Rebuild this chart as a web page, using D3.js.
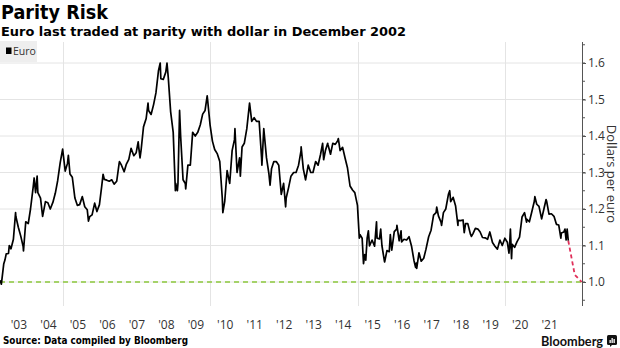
<!DOCTYPE html>
<html>
<head>
<meta charset="utf-8">
<script src="https://cdn.jsdelivr.net/npm/d3@7"></script>
<style>
  html, body { margin: 0; padding: 0; background: #fff; }
  svg { display: block; }
</style>
</head>
<body>
<svg id="chart" width="620" height="348"></svg>
<script>
// EUR/USD, dollars per euro
const euroDates = [
  "2002-11-15","2002-12-02","2002-12-31",
  "2003-01-15","2003-01-31","2003-02-28","2003-03-10","2003-03-31","2003-04-30","2003-05-27","2003-05-30","2003-06-30","2003-07-31","2003-08-29","2003-09-02","2003-09-30","2003-10-31","2003-11-28","2003-12-31",
  "2004-01-12","2004-01-30","2004-02-18","2004-02-27","2004-03-31","2004-04-26","2004-05-31","2004-06-30","2004-07-30","2004-08-31","2004-09-30","2004-10-29","2004-11-30","2004-12-30",
  "2005-01-31","2005-02-28","2005-03-11","2005-03-31","2005-04-29","2005-05-31","2005-06-30","2005-07-29","2005-08-31","2005-09-30","2005-10-31","2005-11-15","2005-11-30","2005-12-30",
  "2006-01-31","2006-02-28","2006-03-31","2006-04-28","2006-05-15","2006-05-31","2006-06-30","2006-07-31","2006-08-31","2006-09-29","2006-10-31","2006-11-30","2006-12-04","2006-12-29",
  "2007-01-31","2007-02-28","2007-03-30","2007-04-27","2007-05-31","2007-06-29","2007-07-24","2007-07-31","2007-08-16","2007-08-31","2007-09-28","2007-10-31","2007-11-23","2007-11-30","2007-12-31",
  "2008-01-31","2008-02-29","2008-03-31","2008-04-22","2008-04-30","2008-05-30","2008-06-30","2008-07-15","2008-07-31","2008-08-29","2008-09-30","2008-10-27","2008-10-31","2008-11-21","2008-11-28","2008-12-18","2008-12-31",
  "2009-01-30","2009-02-27","2009-03-04","2009-03-31","2009-04-30","2009-05-29","2009-06-30","2009-07-31","2009-08-31","2009-09-30","2009-10-30","2009-11-25","2009-11-30","2009-12-31",
  "2010-01-29","2010-02-26","2010-03-31","2010-04-30","2010-05-31","2010-06-07","2010-06-30","2010-07-30","2010-08-31","2010-09-30","2010-10-29","2010-11-04","2010-11-30","2010-12-31",
  "2011-01-10","2011-01-31","2011-02-28","2011-03-31","2011-04-29","2011-05-04","2011-05-31","2011-06-30","2011-07-29","2011-08-31","2011-09-30","2011-10-04","2011-10-27","2011-11-30","2011-12-30",
  "2012-01-13","2012-01-31","2012-02-29","2012-03-30","2012-04-30","2012-05-31","2012-06-29","2012-07-24","2012-07-31","2012-08-31","2012-09-28","2012-10-31","2012-11-30","2012-12-31",
  "2013-01-31","2013-02-01","2013-02-28","2013-03-28","2013-04-30","2013-05-31","2013-06-28","2013-07-31","2013-08-30","2013-09-30","2013-10-25","2013-11-07","2013-11-29","2013-12-27","2013-12-31",
  "2014-01-31","2014-02-28","2014-03-31","2014-04-30","2014-05-08","2014-05-30","2014-06-30","2014-07-31","2014-08-29","2014-09-30","2014-10-31","2014-11-28","2014-12-31",
  "2015-01-23","2015-01-30","2015-02-27","2015-03-16","2015-03-31","2015-04-13","2015-04-30","2015-05-15","2015-05-29","2015-06-30","2015-07-31","2015-08-24","2015-08-31","2015-09-30","2015-10-15","2015-10-30","2015-11-30","2015-12-03","2015-12-31",
  "2016-01-29","2016-02-11","2016-02-29","2016-03-31","2016-04-29","2016-05-03","2016-05-31","2016-06-23","2016-06-30","2016-07-29","2016-08-31","2016-09-30","2016-10-31","2016-11-30","2016-12-20","2016-12-30",
  "2017-01-03","2017-01-31","2017-02-28","2017-03-31","2017-04-28","2017-05-31","2017-06-30","2017-07-31","2017-08-31","2017-09-08","2017-09-29","2017-10-31","2017-11-07","2017-11-30","2017-12-29",
  "2018-01-31","2018-02-16","2018-02-28","2018-03-30","2018-04-30","2018-05-29","2018-05-31","2018-06-29","2018-07-31","2018-08-15","2018-08-31","2018-09-28","2018-10-31","2018-11-12","2018-11-30","2018-12-31",
  "2019-01-31","2019-02-28","2019-03-29","2019-04-30","2019-05-31","2019-06-28","2019-07-31","2019-08-30","2019-09-30","2019-10-31","2019-11-29","2019-12-31",
  "2020-01-31","2020-02-20","2020-02-28","2020-03-09","2020-03-23","2020-03-31","2020-04-30","2020-05-29","2020-06-30","2020-07-31","2020-08-31","2020-09-25","2020-09-30","2020-10-30","2020-11-30","2020-12-31",
  "2021-01-06","2021-01-29","2021-02-26","2021-03-31","2021-04-30","2021-05-25","2021-05-31","2021-06-30","2021-07-30","2021-08-31","2021-09-30","2021-10-29","2021-11-24","2021-11-30","2021-12-31",
  "2022-01-14","2022-01-28","2022-02-10","2022-02-24"
];
const euroValues = [
  1.005,0.994,1.049,
  1.060,1.077,1.078,1.100,1.091,1.117,1.190,1.180,1.150,1.125,1.097,1.085,1.165,1.160,1.200,1.260,
  1.285,1.245,1.290,1.245,1.230,1.180,1.220,1.217,1.200,1.218,1.243,1.277,1.327,1.364,
  1.304,1.325,1.347,1.296,1.287,1.230,1.210,1.212,1.234,1.206,1.198,1.167,1.179,1.184,
  1.216,1.193,1.212,1.262,1.295,1.281,1.279,1.276,1.280,1.268,1.276,1.325,1.330,1.320,
  1.302,1.323,1.336,1.366,1.346,1.354,1.384,1.369,1.340,1.365,1.425,1.448,1.490,1.470,1.459,
  1.486,1.518,1.578,1.600,1.557,1.555,1.575,1.600,1.560,1.467,1.410,1.250,1.270,1.250,1.270,1.470,1.400,
  1.280,1.270,1.255,1.320,1.320,1.410,1.400,1.410,1.430,1.460,1.470,1.510,1.500,1.430,
  1.386,1.363,1.351,1.330,1.230,1.190,1.220,1.305,1.270,1.360,1.390,1.420,1.300,1.340,
  1.290,1.370,1.380,1.420,1.480,1.490,1.440,1.450,1.440,1.440,1.340,1.320,1.420,1.340,1.296,
  1.265,1.310,1.330,1.330,1.320,1.240,1.270,1.206,1.230,1.260,1.290,1.300,1.300,1.320,
  1.360,1.370,1.310,1.280,1.320,1.300,1.300,1.330,1.320,1.350,1.380,1.335,1.360,1.380,1.376,
  1.350,1.380,1.377,1.387,1.393,1.360,1.369,1.339,1.313,1.263,1.252,1.245,1.210,
  1.120,1.130,1.120,1.050,1.075,1.060,1.120,1.140,1.099,1.115,1.098,1.165,1.120,1.118,1.145,1.100,1.057,1.055,1.086,
  1.083,1.130,1.087,1.138,1.145,1.155,1.113,1.140,1.110,1.117,1.115,1.124,1.098,1.059,1.040,1.052,
  1.037,1.080,1.057,1.065,1.090,1.124,1.142,1.183,1.190,1.205,1.181,1.164,1.155,1.190,1.200,
  1.240,1.250,1.220,1.232,1.208,1.155,1.169,1.168,1.170,1.135,1.160,1.160,1.131,1.125,1.132,1.147,
  1.145,1.137,1.122,1.121,1.117,1.137,1.108,1.098,1.090,1.115,1.100,1.120,
  1.109,1.079,1.100,1.145,1.064,1.103,1.095,1.110,1.123,1.178,1.190,1.164,1.172,1.165,1.193,1.222,
  1.234,1.213,1.207,1.173,1.202,1.226,1.222,1.186,1.187,1.180,1.158,1.156,1.120,1.134,1.137,
  1.145,1.115,1.145,1.113
];

// Path toward parity
const projDates = ["2022-02-24","2022-05-15","2022-08-10"];
const projValues = [1.113, 1.020, 1.000];

const parityLevel = 1.0;

const yTicks = [1.0, 1.1, 1.2, 1.3, 1.4, 1.5, 1.6];
const yMinorTicks = [0.95, 1.0, 1.05, 1.1, 1.15, 1.2, 1.25, 1.3, 1.35, 1.4, 1.45, 1.5, 1.55, 1.6, 1.65];
const yearLabels = ["'03","'04","'05","'06","'07","'08","'09","'10","'11","'12","'13","'14","'15","'16","'17","'18","'19","'20","'21"];
const gridYears = [2005, 2010, 2015, 2020];

const title = "Parity Risk";
const subtitle = "Euro last traded at parity with dollar in December 2002";
const source = "Source: Data compiled by Bloomberg";
const yAxisTitle = "Dollars per euro";
const legendLabel = "Euro";

const parse = d3.timeParse("%Y-%m-%d");
const euro = euroDates.map((d, i) => ({ date: parse(d), value: euroValues[i] }));
const proj = projDates.map((d, i) => ({ date: parse(d), value: projValues[i] }));

const svg = d3.select("#chart");
const plot = { left: 0, right: 582, top: 42, bottom: 306 };

const x = d3.scaleTime()
  .domain([parse("2002-11-15"), parse("2022-08-13")])
  .range([plot.left, plot.right]);
const y = d3.scaleLinear()
  .domain([1.0, 1.6])
  .range([282, 63]);

// Horizontal gridlines
svg.append("g")
  .selectAll("line")
  .data(yTicks)
  .join("line")
  .attr("x1", plot.left).attr("x2", plot.right)
  .attr("y1", d => y(d)).attr("y2", d => y(d))
  .attr("stroke", "#e4e4e4").attr("stroke-width", 1);

// Vertical gridlines at year starts
svg.append("g")
  .selectAll("line")
  .data(gridYears)
  .join("line")
  .attr("x1", d => Math.round(x(new Date(d, 0, 1))) + 0.5)
  .attr("x2", d => Math.round(x(new Date(d, 0, 1))) + 0.5)
  .attr("y1", plot.top).attr("y2", plot.bottom)
  .attr("stroke", "#e4e4e4").attr("stroke-width", 1);

// Legend
const legend = svg.append("g");
legend.append("rect")
  .attr("x", 0).attr("y", 41).attr("width", 37).attr("height", 21)
  .attr("fill", "#eeeeee");
legend.append("rect")
  .attr("x", 6).attr("y", 47.5).attr("width", 5.5).attr("height", 6.5)
  .attr("fill", "#000");
legend.append("text")
  .attr("x", 13).attr("y", 55)
  .attr("font-family", "'Open Sans', sans-serif")
  .attr("font-size", 10.5)
  .attr("fill", "#333")
  .text(legendLabel);

// Parity reference line
svg.append("line")
  .attr("x1", plot.left).attr("x2", plot.right)
  .attr("y1", y(parityLevel)).attr("y2", y(parityLevel))
  .attr("stroke", "#8cc83c").attr("stroke-width", 1.6)
  .attr("stroke-dasharray", "5,4");

// Euro line
const line = d3.line().x(d => x(d.date)).y(d => y(d.value));
svg.append("path")
  .datum(euro)
  .attr("fill", "none")
  .attr("stroke", "#000")
  .attr("stroke-width", 1.7)
  .attr("stroke-linejoin", "round")
  .attr("d", line);

// Projection to parity
svg.append("path")
  .datum(proj)
  .attr("fill", "none")
  .attr("stroke", "#e0305a")
  .attr("stroke-width", 1.8)
  .attr("stroke-dasharray", "4,3")
  .attr("d", line);

// Right value axis
const yAxis = d3.axisRight(y)
  .tickValues(yTicks)
  .tickSize(4)
  .tickPadding(2)
  .tickFormat(d3.format(".1f"));
const yAxisG = svg.append("g")
  .attr("transform", `translate(${plot.right},0)`)
  .call(yAxis);
yAxisG.select(".domain").remove();
yAxisG.selectAll(".tick line").attr("stroke", "#555");
yAxisG.selectAll(".tick text")
  .attr("font-family", "'Open Sans', sans-serif")
  .attr("font-size", 12)
  .attr("fill", "#333");
yAxisG.append("line")
  .attr("x1", 0.5).attr("x2", 0.5)
  .attr("y1", plot.top).attr("y2", plot.bottom)
  .attr("stroke", "#555").attr("stroke-width", 1);
yAxisG.append("g")
  .selectAll("line")
  .data(yMinorTicks)
  .join("line")
  .attr("x1", 0).attr("x2", 3)
  .attr("y1", d => y(d)).attr("y2", d => y(d))
  .attr("stroke", "#555");

svg.append("text")
  .attr("transform", `translate(607,174) rotate(90)`)
  .attr("text-anchor", "middle")
  .attr("font-family", "'Open Sans', sans-serif")
  .attr("font-size", 13)
  .attr("fill", "#333")
  .text(yAxisTitle);

// Year labels at mid-year
const xAxis = d3.axisBottom(x)
  .tickValues(yearLabels.map((_, i) => new Date(2003 + i, 6, 1)))
  .tickSize(0)
  .tickPadding(0)
  .tickFormat((d, i) => yearLabels[i]);
const xAxisG = svg.append("g")
  .attr("transform", "translate(0,320)")
  .call(xAxis);
xAxisG.select(".domain").remove();
xAxisG.selectAll(".tick text")
  .attr("font-family", "'Open Sans', sans-serif")
  .attr("font-size", 12)
  .attr("fill", "#333");

// Titles
svg.append("text")
  .attr("x", 1).attr("y", 19)
  .attr("font-family", "'DejaVu Sans', sans-serif")
  .attr("font-weight", "bold")
  .attr("font-size", 19)
  .attr("textLength", 107).attr("lengthAdjust", "spacingAndGlyphs")
  .attr("fill", "#000")
  .text(title);
svg.append("text")
  .attr("x", 1).attr("y", 36)
  .attr("font-family", "'DejaVu Sans', sans-serif")
  .attr("font-weight", "bold")
  .attr("font-size", 13)
  .attr("textLength", 405).attr("lengthAdjust", "spacingAndGlyphs")
  .attr("fill", "#000")
  .text(subtitle);

// Source
svg.append("text")
  .attr("x", 3).attr("y", 344)
  .attr("font-family", "'DejaVu Sans', sans-serif")
  .attr("font-weight", "bold")
  .attr("font-size", 10.5)
  .attr("textLength", 185).attr("lengthAdjust", "spacingAndGlyphs")
  .attr("fill", "#000")
  .text(source);

// Bloomberg mark
svg.append("text")
  .attr("x", 541).attr("y", 345.5)
  .attr("font-family", "Lato, sans-serif")
  .attr("font-weight", 700)
  .attr("font-size", 13)
  .attr("textLength", 62).attr("lengthAdjust", "spacingAndGlyphs")
  .attr("fill", "#111")
  .text("Bloomberg");
const logo = svg.append("g").attr("transform", "translate(607,335)");
logo.append("rect").attr("width", 10).attr("height", 10).attr("rx", 1.5).attr("fill", "#111");
logo.append("rect").attr("x", 2.5).attr("y", 5).attr("width", 1.3).attr("height", 3).attr("fill", "#fff");
logo.append("rect").attr("x", 4.5).attr("y", 3).attr("width", 1.3).attr("height", 5).attr("fill", "#fff");
logo.append("rect").attr("x", 6.5).attr("y", 4).attr("width", 1.3).attr("height", 4).attr("fill", "#fff");
logo.append("path").attr("d", "M3,10 L3,12 L5,10 Z").attr("fill", "#111");
</script>
</body>
</html>
